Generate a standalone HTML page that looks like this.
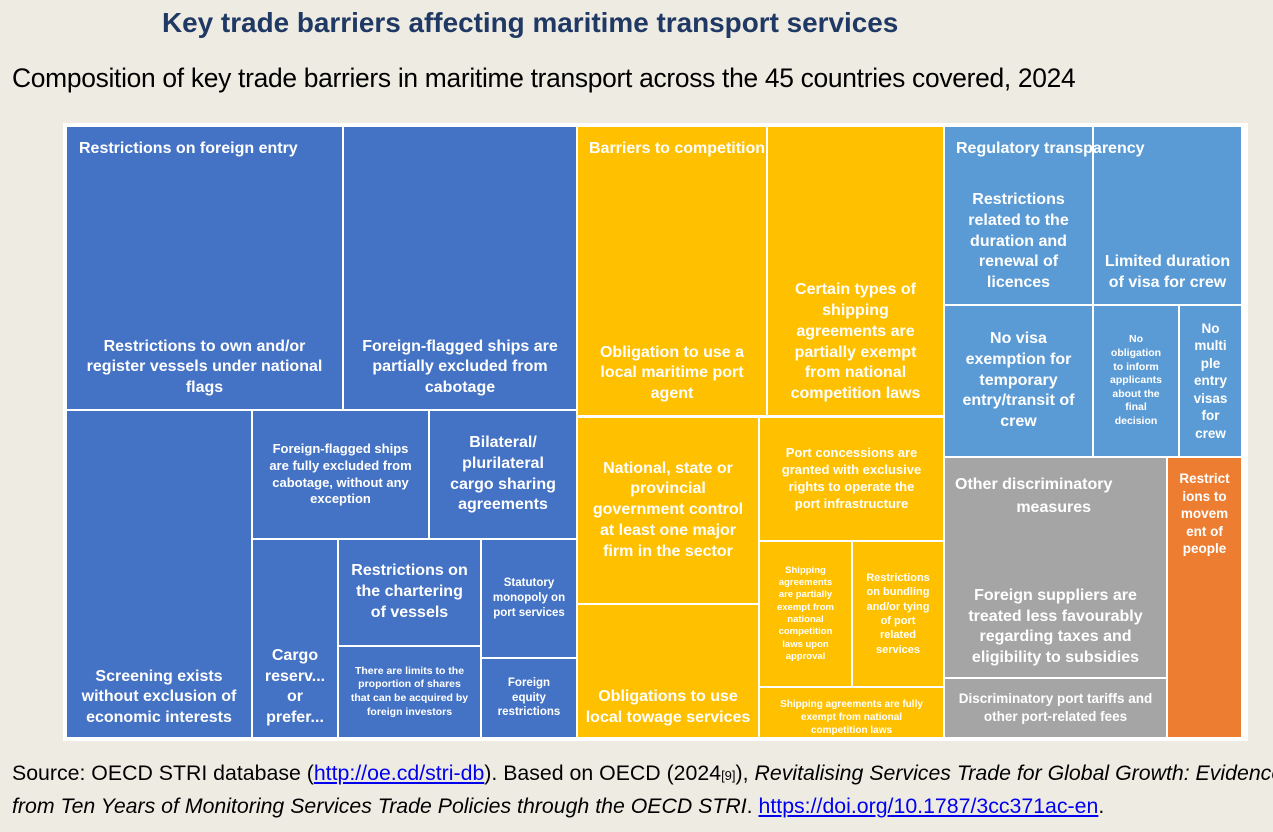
<!DOCTYPE html>
<html><head><meta charset="utf-8"><style>
body{margin:0;width:1273px;height:832px;background:#eeebe2;position:relative;overflow:hidden;font-family:"Liberation Sans",sans-serif}
.t{position:absolute;left:162px;top:7px;font-size:27.9px;font-weight:bold;color:#1f3864;white-space:nowrap}
.s{position:absolute;left:12px;top:63px;font-size:26.4px;color:#000;letter-spacing:-0.3px;white-space:nowrap}
.f{position:absolute;left:12px;top:758px;font-size:21.3px;line-height:30px;color:#000;white-space:nowrap}
.f a{color:#0000ee;text-decoration:underline}
.frame{position:absolute;left:63px;top:123px;width:1185px;height:618px;background:#fff}
.b{position:absolute;color:#fff;font-weight:bold;text-align:center;box-sizing:border-box;display:flex;flex-direction:column;justify-content:center;align-items:center;line-height:1.3;overflow:hidden}
.B{background:#4472c4}.Y{background:#ffc000}.L{background:#5b9bd5}.G{background:#a5a5a5}.O{background:#ed7d31}
.h{position:absolute;color:#fff;font-weight:bold;font-size:16px;white-space:nowrap}
</style></head><body>
<div class="t">Key trade barriers affecting maritime transport services</div>
<div class="s">Composition of key trade barriers in maritime transport across the 45 countries covered, 2024</div>
<div class="frame"></div>

<div class="b B" style="left:67px;top:127px;width:275px;height:282px;justify-content:flex-end;padding-bottom:10px;font-size:16px">Restrictions to own and/or<br>register vessels under national<br>flags</div>
<div class="h" style="left:79px;top:140px">Restrictions on foreign entry</div>
<div class="b B" style="left:344px;top:127px;width:232px;height:282px;justify-content:flex-end;padding-bottom:10px;font-size:16px">Foreign-flagged ships are<br>partially excluded from<br>cabotage</div>
<div class="b B" style="left:67px;top:411px;width:184px;height:326px;justify-content:flex-end;padding-bottom:8px;font-size:16px">Screening exists<br>without exclusion of<br>economic interests</div>
<div class="b B" style="left:253px;top:411px;width:175px;height:127px;font-size:13px">Foreign-flagged ships<br>are fully excluded from<br>cabotage, without any<br>exception</div>
<div class="b B" style="left:430px;top:411px;width:146px;height:127px;font-size:16px">Bilateral/<br>plurilateral<br>cargo sharing<br>agreements</div>
<div class="b B" style="left:253px;top:540px;width:84px;height:197px;justify-content:flex-end;padding-bottom:8px;font-size:16px">Cargo<br>reserv...<br>or<br>prefer...</div>
<div class="b B" style="left:339px;top:540px;width:141px;height:105px;font-size:16px">Restrictions on<br>the chartering<br>of vessels</div>
<div class="b B" style="left:339px;top:647px;width:141px;height:90px;font-size:10.5px">There are limits to the<br>proportion of shares<br>that can be acquired by<br>foreign investors</div>
<div class="b B" style="left:482px;top:540px;width:94px;height:117px;font-size:11.5px">Statutory<br>monopoly on<br>port services</div>
<div class="b B" style="left:482px;top:659px;width:94px;height:78px;font-size:11.5px">Foreign<br>equity<br>restrictions</div>

<div class="b Y" style="left:578px;top:127px;width:188px;height:288px;justify-content:flex-end;padding-bottom:10px;font-size:16px">Obligation to use a<br>local maritime port<br>agent</div>
<div class="h" style="left:589px;top:140px">Barriers to competition</div>
<div class="b Y" style="left:768px;top:127px;width:175px;height:288px;justify-content:flex-end;padding-bottom:10px;font-size:16px">Certain types of<br>shipping<br>agreements are<br>partially exempt<br>from national<br>competition laws</div>
<div class="b Y" style="left:578px;top:418px;width:180px;height:185px;font-size:16px">National, state or<br>provincial<br>government control<br>at least one major<br>firm in the sector</div>
<div class="b Y" style="left:578px;top:605px;width:180px;height:132px;justify-content:flex-end;padding-bottom:8px;font-size:16px">Obligations to use<br>local towage services</div>
<div class="b Y" style="left:760px;top:418px;width:183px;height:122px;font-size:13px">Port concessions are<br>granted with exclusive<br>rights to operate the<br>port infrastructure</div>
<div class="b Y" style="left:760px;top:542px;width:91px;height:144px;font-size:9.5px">Shipping<br>agreements<br>are partially<br>exempt from<br>national<br>competition<br>laws upon<br>approval</div>
<div class="b Y" style="left:853px;top:542px;width:90px;height:144px;font-size:11px">Restrictions<br>on bundling<br>and/or tying<br>of port<br>related<br>services</div>
<div class="b Y" style="left:760px;top:688px;width:183px;height:49px;justify-content:flex-start;padding-top:10px;font-size:10px">Shipping agreements are fully<br>exempt from national<br>competition laws</div>

<div class="b L" style="left:945px;top:127px;width:147px;height:177px;justify-content:flex-end;padding-bottom:10px;font-size:16px">Restrictions<br>related to the<br>duration and<br>renewal of<br>licences</div>
<div class="b L" style="left:1094px;top:127px;width:147px;height:177px;justify-content:flex-end;padding-bottom:10px;font-size:16px">Limited duration<br>of visa for crew</div>
<div class="h" style="left:956px;top:140px">Regulatory transparency</div>
<div class="b L" style="left:945px;top:306px;width:147px;height:150px;font-size:16px">No visa<br>exemption for<br>temporary<br>entry/transit of<br>crew</div>
<div class="b L" style="left:1094px;top:306px;width:84px;height:150px;font-size:10.5px">No<br>obligation<br>to inform<br>applicants<br>about the<br>final<br>decision</div>
<div class="b L" style="left:1180px;top:306px;width:61px;height:150px;font-size:13.5px">No<br>multi<br>ple<br>entry<br>visas<br>for<br>crew</div>
<div class="b G" style="left:945px;top:458px;width:221px;height:219px;justify-content:flex-end;padding-bottom:8px;font-size:16px">Foreign suppliers are<br>treated less favourably<br>regarding taxes and<br>eligibility to subsidies</div>
<div class="h" style="left:955px;top:473px;text-align:center;font-size:16px;line-height:23px">Other discriminatory<br>&nbsp;&nbsp;&nbsp;&nbsp;&nbsp;&nbsp;&nbsp;&nbsp;&nbsp;measures</div>
<div class="b G" style="left:945px;top:679px;width:221px;height:58px;font-size:13.5px">Discriminatory port tariffs and<br>other port-related fees</div>
<div class="b O" style="left:1168px;top:458px;width:73px;height:279px;justify-content:flex-start;padding-top:12px;font-size:13.5px">Restrict<br>ions to<br>movem<br>ent of<br>people</div>

<div class="f">Source: OECD STRI database (<a>http://oe.cd/stri-db</a>). Based on OECD (2024<span style="font-size:13px">[9]</span>), <i>Revitalising Services Trade for Global Growth: Evidence</i><br><i>from Ten Years of Monitoring Services Trade Policies through the OECD STRI</i>. <a>https://doi.org/10.1787/3cc371ac-en</a>.</div>
</body></html>
